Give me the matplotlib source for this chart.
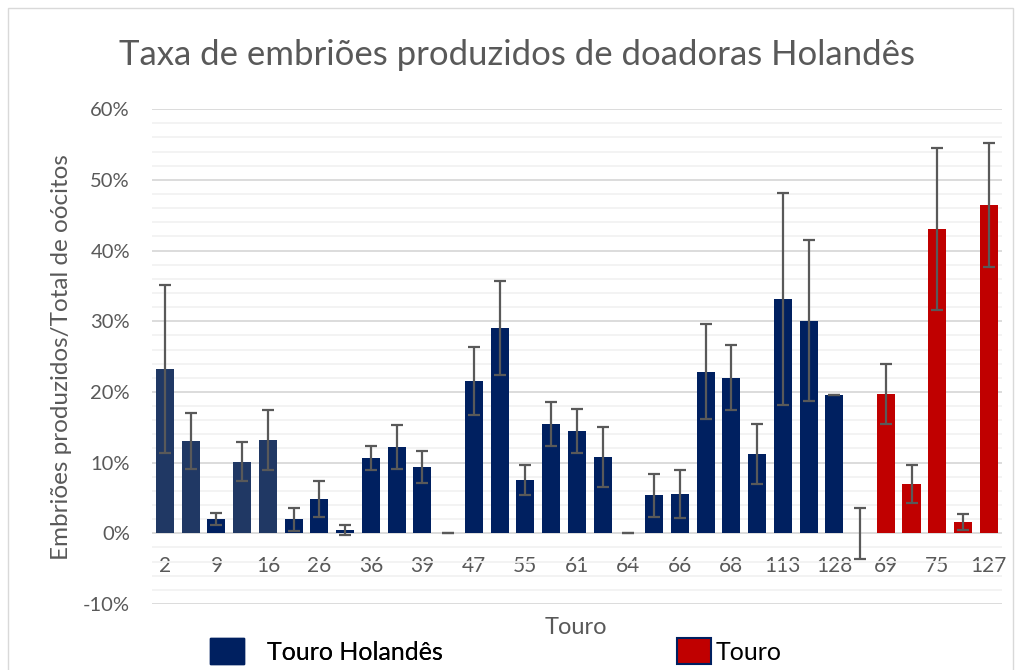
import matplotlib
matplotlib.use("Agg")
import matplotlib.pyplot as plt
import numpy as np
from matplotlib.patches import Patch, Rectangle
from matplotlib.ticker import MultipleLocator, PercentFormatter

plt.rcParams["font.family"] = ["Lato", "DejaVu Sans"]
plt.rcParams["axes.unicode_minus"] = False

# taxa (%) por touro, na ordem do gráfico (33 barras)
taxa = [23.2, 13.05, 2.0, 10.1, 13.2, 2.0, 4.85, 0.47, 10.65, 12.2, 9.4, 0.0,
        21.55, 29.05, 7.55, 15.45, 14.5, 10.8, 0.0, 5.4, 5.55, 22.85, 22.0,
        11.2, 33.15, 30.05, 19.55, 0.0,
        19.7, 6.95, 43.05, 1.6, 46.45]
erro = [11.9, 4.0, 0.85, 2.75, 4.25, 1.65, 2.55, 0.7, 1.65, 3.1, 2.25, 0.0,
        4.8, 6.7, 2.15, 3.1, 3.1, 4.2, 0.0, 3.05, 3.35, 6.7, 4.6,
        4.2, 15.05, 11.4, 0.0, 3.6,
        4.25, 2.7, 11.4, 1.2, 8.75]
# grupo de cada barra: "hol_claro", "hol" ou "touro"
grupo = ["hol_claro", "hol_claro", "hol", "hol_claro", "hol_claro"] + ["hol"] * 23 + ["touro"] * 5

# rótulos visíveis (um a cada duas barras)
rotulos = ["2", "9", "16", "26", "36", "39", "47", "55", "61", "64", "66",
           "68", "113", "128", "69", "75", "127"]

CORES = {"hol_claro": "#203864", "hol": "#002060", "touro": "#c00000"}
CINZA_TXT = "#595959"

fig = plt.figure(figsize=(10.21, 6.70), dpi=100)
ax = fig.add_axes([0.149, 0.0985, 0.832, 0.7385])

x = np.arange(len(taxa))
cores = [CORES[g] for g in grupo]
ax.bar(x, taxa, width=0.7, color=cores, zorder=3)
ax.errorbar(x, taxa, yerr=erro, fmt="none", ecolor=CINZA_TXT, elinewidth=1.6,
            capsize=4.3, capthick=1.6, zorder=4)

ax.set_xlim(-0.5, len(taxa) - 0.5)
ax.set_ylim(-10, 60)
ax.yaxis.set_major_locator(MultipleLocator(10))
ax.yaxis.set_minor_locator(MultipleLocator(2))
ax.yaxis.set_major_formatter(PercentFormatter(decimals=0))
ax.grid(axis="y", which="minor", color="#f2f2f2", linewidth=1.3, zorder=0)
ax.grid(axis="y", which="major", color="#d9d9d9", linewidth=1.3, zorder=1)

ax.set_xticks(x[::2])
ax.set_xticklabels(rotulos)
ax.spines["bottom"].set_position(("data", 0))
for s in ax.spines.values():
    s.set_color("none")
ax.tick_params(axis="both", which="both", length=0, labelsize=14.5,
               labelcolor=CINZA_TXT)
ax.tick_params(axis="x", labelsize=15, pad=16)
ax.tick_params(axis="y", pad=16)

ax.set_ylabel("Embriões produzidos/Total de oócitos", fontsize=17.5,
              color=CINZA_TXT, labelpad=8)
fig.text(0.564, 0.063, "Touro", fontsize=17, color=CINZA_TXT, ha="center", va="center")
fig.text(0.506, 0.918, "Taxa de embriões produzidos de doadoras Holandês",
         fontsize=25, color=CINZA_TXT, ha="center", va="center")

# legenda em duas partes (espaçamentos diferentes no original)
leg1 = fig.legend([Patch(facecolor=CORES["hol"], edgecolor=CORES["hol"])],
                  ["Touro Holandês"], loc="center left",
                  bbox_to_anchor=(0.184, 0.028), frameon=False, fontsize=18,
                  handlelength=1.35, handleheight=1.2, handletextpad=0.9,
                  labelcolor="black")
fig.add_artist(leg1)
fig.legend([Patch(facecolor=CORES["touro"], edgecolor=CORES["hol"], linewidth=1.5)],
           ["Touro"], loc="center left", bbox_to_anchor=(0.641, 0.028),
           frameon=False, fontsize=18, handlelength=1.35, handleheight=1.2,
           handletextpad=0.2, labelcolor="black")

fig.patches.append(Rectangle((8 / 1021, -0.02), 1005 / 1021, 1 - 8 / 670 + 0.02,
                             transform=fig.transFigure, fill=False,
                             edgecolor="#d9d9d9", linewidth=1.0))

fig.savefig("out.png", dpi=100)
